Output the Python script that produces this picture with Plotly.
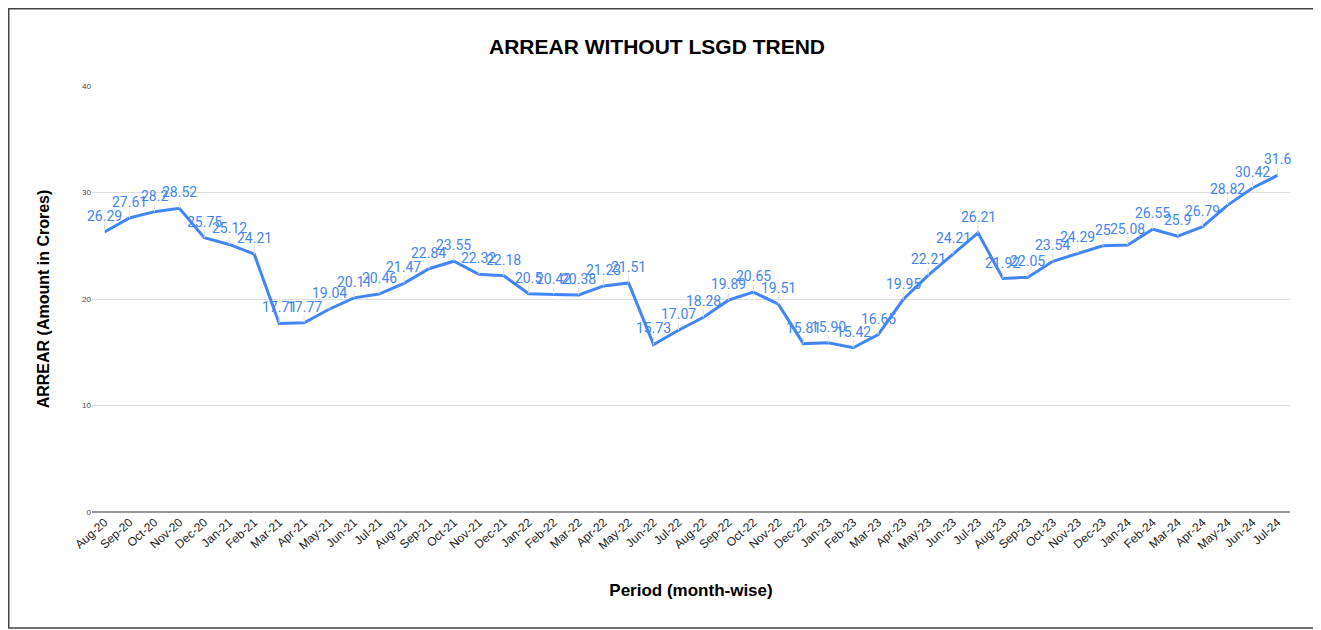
import plotly.graph_objects as go

months = ["Aug-20","Sep-20","Oct-20","Nov-20","Dec-20","Jan-21","Feb-21","Mar-21","Apr-21","May-21",
          "Jun-21","Jul-21","Aug-21","Sep-21","Oct-21","Nov-21","Dec-21","Jan-22","Feb-22","Mar-22",
          "Apr-22","May-22","Jun-22","Jul-22","Aug-22","Sep-22","Oct-22","Nov-22","Dec-22","Jan-23",
          "Feb-23","Mar-23","Apr-23","May-23","Jun-23","Jul-23","Aug-23","Sep-23","Oct-23","Nov-23",
          "Dec-23","Jan-24","Feb-24","Mar-24","Apr-24","May-24","Jun-24","Jul-24"]
arrear = [26.29, 27.61, 28.2, 28.52, 25.75, 25.12, 24.21, 17.71, 17.77, 19.04,
          20.11, 20.46, 21.47, 22.84, 23.55, 22.32, 22.18, 20.5, 20.42, 20.38,
          21.23, 21.51, 15.73, 17.07, 18.28, 19.89, 20.65, 19.51, 15.81, 15.90,
          15.42, 16.65, 19.95, 22.21, 24.21, 26.21, 21.92, 22.05, 23.54, 24.29,
          25, 25.08, 26.55, 25.9, 26.79, 28.82, 30.42, 31.6]
labels = [f"{v:g}" if i != 29 else "15.90" for i, v in enumerate(arrear)]

blue = "#4285F4"
W, H = 1313, 622
L, T, PW, PH = 84, 78, 1198, 426
R = W - L - PW
B = H - T - PH

fig = go.Figure()
fig.add_trace(go.Scatter(x=months, y=arrear, mode="lines",
                         line=dict(color=blue, width=3), hoverinfo="x+y", showlegend=False))

annotations = []
for m, v, t in zip(months, arrear, labels):
    annotations.append(dict(x=m, y=v, xref="x", yref="y", text=t, showarrow=True,
                            ax=0, ay=-16, arrowhead=0, arrowwidth=1, arrowcolor="#dddddd",
                            standoff=0, borderpad=0,
                            font=dict(family="Roboto, Arial", size=14, color=blue)))

fig.update_layout(
    width=W, height=H,
    margin=dict(l=L, r=R, t=T, b=B),
    paper_bgcolor="white", plot_bgcolor="white",
    title=dict(text="<b>ARREAR WITHOUT LSGD TREND</b>", x=(657 - 8) / W, xanchor="center",
               y=1 - 39 / H, yanchor="middle",
               font=dict(family="Arial", size=21, color="#000")),
    xaxis=dict(type="category", range=[-0.5, len(months) - 0.5], tickangle=-42,
               tickfont=dict(family="Arial", size=12, color="#222"), showgrid=False,
               ticks="", title=dict(text="<b>Period (month-wise)</b>",
                                     font=dict(family="Arial", size=17, color="#000"), standoff=32)),
    yaxis=dict(range=[0, 40], dtick=10, gridcolor="#dddddd", gridwidth=1,
               tickfont=dict(family="Arial", size=8, color="#444"), ticks="",
               zeroline=True, zerolinecolor="#999999", zerolinewidth=1.5,
               title=dict(text="<b>ARREAR (Amount in Crores)</b>",
                          font=dict(family="Arial", size=16, color="#000"), standoff=28)),
    annotations=annotations,
    shapes=[dict(type="rect", xref="paper", yref="paper",
                 x0=(0.75 - L) / PW, x1=(1308 - L) / PW,
                 y0=(T + PH - 620) / PH, y1=(T + PH - 0.75) / PH,
                 line=dict(color="#444444", width=1.5), fillcolor="rgba(0,0,0,0)", layer="below")],
)

fig.write_html("out.html")
